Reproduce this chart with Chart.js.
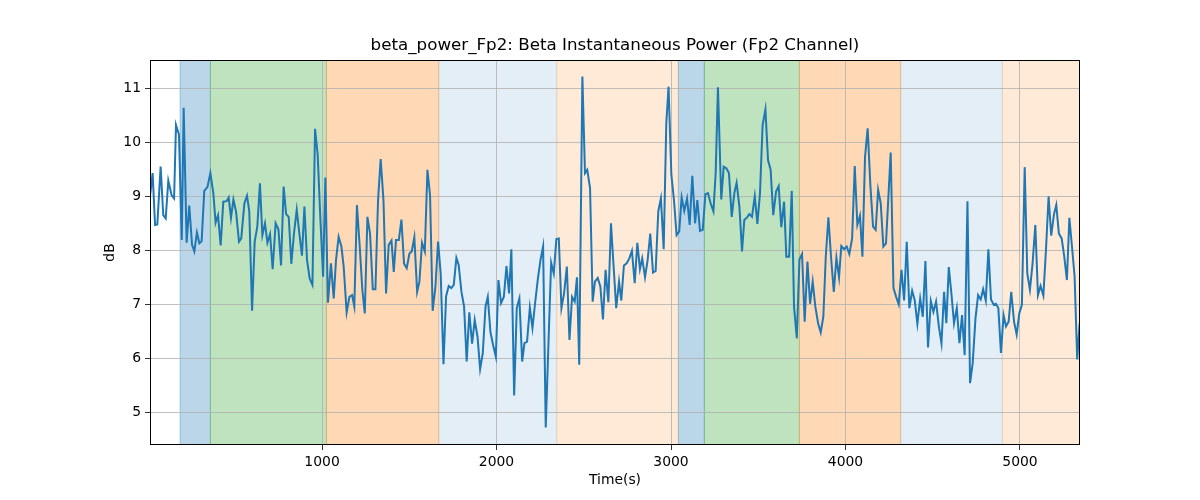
<!DOCTYPE html>
<html>
<head>
<meta charset="utf-8">
<script src="https://cdn.jsdelivr.net/npm/chart.js@4/dist/chart.umd.min.js"></script>
<style>
  html, body { margin: 0; padding: 0; background: #fff; }
  #wrap { width: 1200px; height: 500px; position: relative; }
</style>
</head>
<body>
<div id="wrap"><canvas id="betaChart" width="1200" height="500"></canvas></div>
<script>
// time stamps (s) and beta power (dB)
const timeS = [
  14, 29, 43, 56, 75, 90, 104, 119, 138, 152, 163, 180, 196, 207, 224, 239, 255, 268, 283, 297,
  310, 325, 343, 360, 377, 390, 404, 419, 434, 453, 465, 478, 492, 507, 524, 537, 555, 570, 583, 599,
  614, 629, 644, 658, 673, 687, 702, 717, 734, 750, 765, 780, 794, 809, 824, 839, 855, 870, 885, 899,
  914, 929, 945, 960, 975, 990, 1006, 1019, 1034, 1051, 1067, 1080, 1095, 1111, 1124, 1141, 1157, 1172, 1185, 1200,
  1216, 1231, 1245, 1260, 1275, 1291, 1306, 1321, 1336, 1352, 1367, 1382, 1398, 1411, 1424, 1440, 1455, 1470, 1485, 1501,
  1514, 1529, 1545, 1558, 1573, 1589, 1604, 1619, 1634, 1650, 1665, 1680, 1696, 1711, 1726, 1741, 1755, 1770, 1783, 1799,
  1814, 1829, 1844, 1860, 1875, 1891, 1906, 1921, 1937, 1950, 1965, 1980, 1996, 2011, 2026, 2042, 2057, 2072, 2085, 2101,
  2116, 2131, 2147, 2160, 2175, 2191, 2206, 2221, 2236, 2252, 2267, 2282, 2298, 2313, 2328, 2343, 2357, 2372, 2387, 2403,
  2418, 2433, 2448, 2461, 2474, 2492, 2507, 2520, 2536, 2551, 2564, 2580, 2595, 2610, 2625, 2641, 2656, 2671, 2686, 2702,
  2715, 2730, 2746, 2761, 2776, 2792, 2807, 2822, 2835, 2851, 2866, 2881, 2897, 2912, 2927, 2942, 2958, 2973, 2986, 3002,
  3017, 3032, 3047, 3061, 3076, 3092, 3107, 3122, 3138, 3151, 3166, 3182, 3197, 3212, 3227, 3243, 3256, 3269, 3288, 3302,
  3317, 3332, 3348, 3363, 3376, 3392, 3407, 3420, 3436, 3449, 3464, 3480, 3495, 3510, 3525, 3541, 3556, 3571, 3586, 3602,
  3617, 3632, 3648, 3661, 3677, 3692, 3705, 3721, 3736, 3751, 3766, 3782, 3797, 3812, 3827, 3843, 3858, 3873, 3887, 3902,
  3917, 3933, 3948, 3963, 3976, 3992, 4007, 4022, 4038, 4053, 4068, 4083, 4097, 4112, 4127, 4143, 4158, 4173, 4187, 4202,
  4217, 4232, 4248, 4259, 4275, 4290, 4305, 4321, 4336, 4351, 4366, 4382, 4397, 4412, 4428, 4443, 4458, 4473, 4489, 4504,
  4519, 4535, 4550, 4565, 4578, 4592, 4607, 4622, 4638, 4653, 4668, 4683, 4699, 4714, 4729, 4745, 4760, 4775, 4789, 4804,
  4819, 4834, 4850, 4862, 4876, 4891, 4906, 4920, 4935, 4950, 4966, 4981, 4996, 5011, 5027, 5042, 5057, 5072, 5088, 5103,
  5118, 5134, 5149, 5164, 5179, 5195, 5208, 5223, 5239, 5254, 5269, 5283, 5298, 5313, 5328, 5342
];
const betaDb = [
  9.00, 9.43, 8.47, 8.48, 9.55, 8.65, 8.59, 9.29, 9.02, 8.96, 10.32, 10.14, 8.19, 10.64, 8.14, 8.83, 8.10, 7.98, 8.33, 8.13,
  8.17, 9.10, 9.17, 9.43, 9.06, 8.51, 8.65, 8.09, 8.90, 8.91, 8.98, 8.60, 8.94, 8.72, 8.16, 8.22, 8.87, 9.01, 8.72, 6.88,
  8.16, 8.44, 9.24, 8.28, 8.50, 8.14, 8.30, 7.65, 8.50, 8.39, 7.72, 9.18, 8.67, 8.62, 7.75, 8.31, 8.75, 8.31, 7.90, 8.81,
  7.82, 7.48, 7.36, 10.25, 9.77, 8.62, 7.51, 9.35, 7.03, 7.76, 7.11, 7.82, 8.25, 8.07, 7.70, 6.85, 7.14, 7.17, 6.96, 8.84,
  8.07, 7.27, 6.83, 8.62, 8.31, 7.28, 7.28, 8.93, 9.69, 8.93, 7.20, 8.10, 8.18, 7.60, 8.19, 8.19, 8.57, 7.75, 7.67, 7.94,
  7.98, 8.24, 7.23, 7.42, 8.14, 7.98, 9.49, 9.02, 6.88, 7.33, 8.16, 7.57, 5.89, 7.15, 7.34, 7.30, 7.36, 7.86, 7.73, 7.23,
  6.96, 5.94, 6.85, 6.27, 6.71, 6.40, 5.80, 6.09, 6.96, 7.14, 6.49, 6.25, 6.03, 7.45, 7.02, 7.14, 7.71, 7.20, 8.02, 5.31,
  6.93, 7.11, 5.94, 6.28, 6.31, 6.94, 6.56, 7.02, 7.45, 7.82, 8.07, 4.72, 6.31, 7.77, 7.57, 8.21, 8.22, 6.93, 7.20, 7.70,
  6.34, 7.14, 7.05, 7.50, 5.88, 11.22, 9.43, 9.49, 9.15, 7.05, 7.42, 7.49, 7.33, 6.72, 7.64, 7.04, 8.50, 7.70, 6.93, 7.42,
  7.07, 7.72, 7.76, 7.85, 7.99, 7.39, 8.14, 7.65, 7.85, 7.50, 7.82, 8.31, 7.59, 7.62, 8.72, 8.96, 8.02, 10.35, 11.03, 9.40,
  8.93, 8.28, 8.35, 8.98, 8.73, 8.96, 8.47, 9.38, 8.50, 8.93, 8.36, 8.38, 9.04, 9.06, 8.87, 8.72, 9.43, 11.02, 8.94, 9.55,
  9.52, 9.43, 8.62, 9.06, 9.25, 8.81, 7.98, 8.56, 8.61, 8.67, 8.62, 9.00, 8.49, 9.06, 10.32, 10.61, 9.67, 9.49, 8.65, 9.09,
  9.19, 8.43, 8.90, 7.88, 7.88, 9.10, 6.96, 6.37, 7.83, 7.93, 6.68, 7.79, 7.01, 7.42, 6.96, 6.65, 6.48, 6.77, 7.88, 8.61,
  7.88, 7.23, 7.86, 7.50, 8.08, 8.02, 8.07, 7.93, 8.22, 9.56, 8.47, 8.64, 7.88, 9.73, 10.26, 9.18, 8.44, 8.38, 9.12, 8.87,
  8.07, 8.13, 9.12, 9.81, 7.30, 7.14, 7.00, 7.64, 7.07, 8.16, 6.93, 7.25, 7.07, 6.64, 7.11, 6.77, 7.80, 6.20, 7.06, 6.86,
  7.05, 6.59, 6.28, 7.23, 6.65, 7.69, 7.20, 6.65, 6.93, 6.28, 6.80, 6.06, 8.91, 5.54, 5.91, 6.74, 7.17, 7.09, 7.28, 7.07,
  8.02, 7.09, 6.99, 7.01, 6.93, 6.10, 6.80, 6.59, 6.68, 7.23, 6.68, 6.44, 6.83, 6.99, 9.54, 7.57, 7.27, 7.75, 8.47, 7.17,
  7.34, 7.16, 8.01, 9.00, 8.27, 8.67, 8.84, 8.31, 8.22, 7.88, 7.45, 8.60, 8.07, 7.52, 5.98, 6.65
];

// shaded stage spans (s)
const spanStart = [186, 360, 1025, 1669, 2345, 3042, 3191, 3736, 4316, 4899];
const spanEnd   = [360, 1025, 1669, 2345, 3042, 3191, 3736, 4316, 4899, 5400];
const spanKind  = ["blue", "green", "orange", "paleBlue", "paleOrange",
                   "blue", "green", "orange", "paleBlue", "paleOrange"];

const xTicks = [1000, 2000, 3000, 4000, 5000];
const yTicks = [5, 6, 7, 8, 9, 10, 11];

const chartTitle = "beta_power_Fp2: Beta Instantaneous Power (Fp2 Channel)";

const spanColors = {
  blue: "rgba(31,119,180,0.3)",
  green: "rgba(44,160,44,0.3)",
  orange: "rgba(255,127,14,0.3)",
  paleBlue: "rgba(31,119,180,0.12)",
  paleOrange: "rgba(255,127,14,0.16)"
};

const font = "'DejaVu Sans', sans-serif";

// spans under the grid, frame and centred title on top
const spansPlugin = {
  id: "spans",
  beforeDraw(chart) {
    const { ctx, chartArea: a, scales } = chart;
    ctx.save();
    ctx.beginPath();
    ctx.rect(a.left, a.top, a.right - a.left, a.bottom - a.top);
    ctx.clip();
    for (let i = 0; i < spanStart.length; i++) {
      const x0 = scales.x.getPixelForValue(spanStart[i]);
      const x1 = scales.x.getPixelForValue(spanEnd[i]);
      ctx.fillStyle = spanColors[spanKind[i]];
      ctx.fillRect(x0, a.top, x1 - x0, a.bottom - a.top);
      ctx.strokeStyle = spanColors[spanKind[i]];
      ctx.lineWidth = 1;
      ctx.strokeRect(x0, a.top, x1 - x0, a.bottom - a.top);
    }
    ctx.restore();
  },
  afterDraw(chart) {
    const { ctx, chartArea: a } = chart;
    ctx.save();
    ctx.strokeStyle = "#000";
    ctx.lineWidth = 1;
    ctx.strokeRect(a.left + 0.5, a.top + 0.5, a.right - a.left - 1, a.bottom - a.top - 1);
    ctx.fillStyle = "#000";
    ctx.font = "16.7px " + font;
    ctx.textAlign = "center";
    ctx.textBaseline = "middle";
    ctx.fillText(chartTitle, (a.left + a.right) / 2, 46);
    ctx.restore();
  }
};

new Chart(document.getElementById("betaChart"), {
  type: "line",
  data: {
    datasets: [{
      data: timeS.map((t, i) => ({ x: t, y: betaDb[i] })),
      borderColor: "#1f77b4",
      borderWidth: 2,
      pointRadius: 0,
      tension: 0,
      fill: false
    }]
  },
  options: {
    responsive: false,
    animation: false,
    layout: { padding: { top: 60, left: 100, right: 120, bottom: 0 } },
    plugins: {
      legend: { display: false },
      tooltip: { enabled: false },
      title: { display: false }
    },
    scales: {
      x: {
        type: "linear",
        min: 14,
        max: 5344,
        afterFit: s => { s.height = 55; },
        afterBuildTicks: s => { s.ticks = xTicks.map(v => ({ value: v })); },
        grid: { color: "#b0b0b0", lineWidth: 0.8, tickColor: "#000", tickLength: 5 },
        border: { display: false },
        ticks: {
          color: "#000", padding: 4, maxRotation: 0,
          font: { family: font, size: 13.9 },
          callback: v => String(v)
        },
        title: {
          display: true, text: "Time(s)", color: "#000",
          font: { family: font, size: 13.9 }, padding: { top: 0, bottom: 11 }
        }
      },
      y: {
        min: 4.395,
        max: 11.524,
        afterFit: s => { s.width = 50; },
        afterBuildTicks: s => { s.ticks = yTicks.map(v => ({ value: v })); },
        grid: { color: "#b0b0b0", lineWidth: 0.8, tickColor: "#000", tickLength: 5 },
        border: { display: false },
        ticks: {
          color: "#000", padding: 4,
          font: { family: font, size: 13.9 },
          callback: v => String(v)
        },
        title: {
          display: true, text: "dB", color: "#000",
          font: { family: font, size: 13.9 }, padding: { top: 2, bottom: 0 }
        }
      }
    }
  },
  plugins: [spansPlugin]
});
</script>
</body>
</html>
